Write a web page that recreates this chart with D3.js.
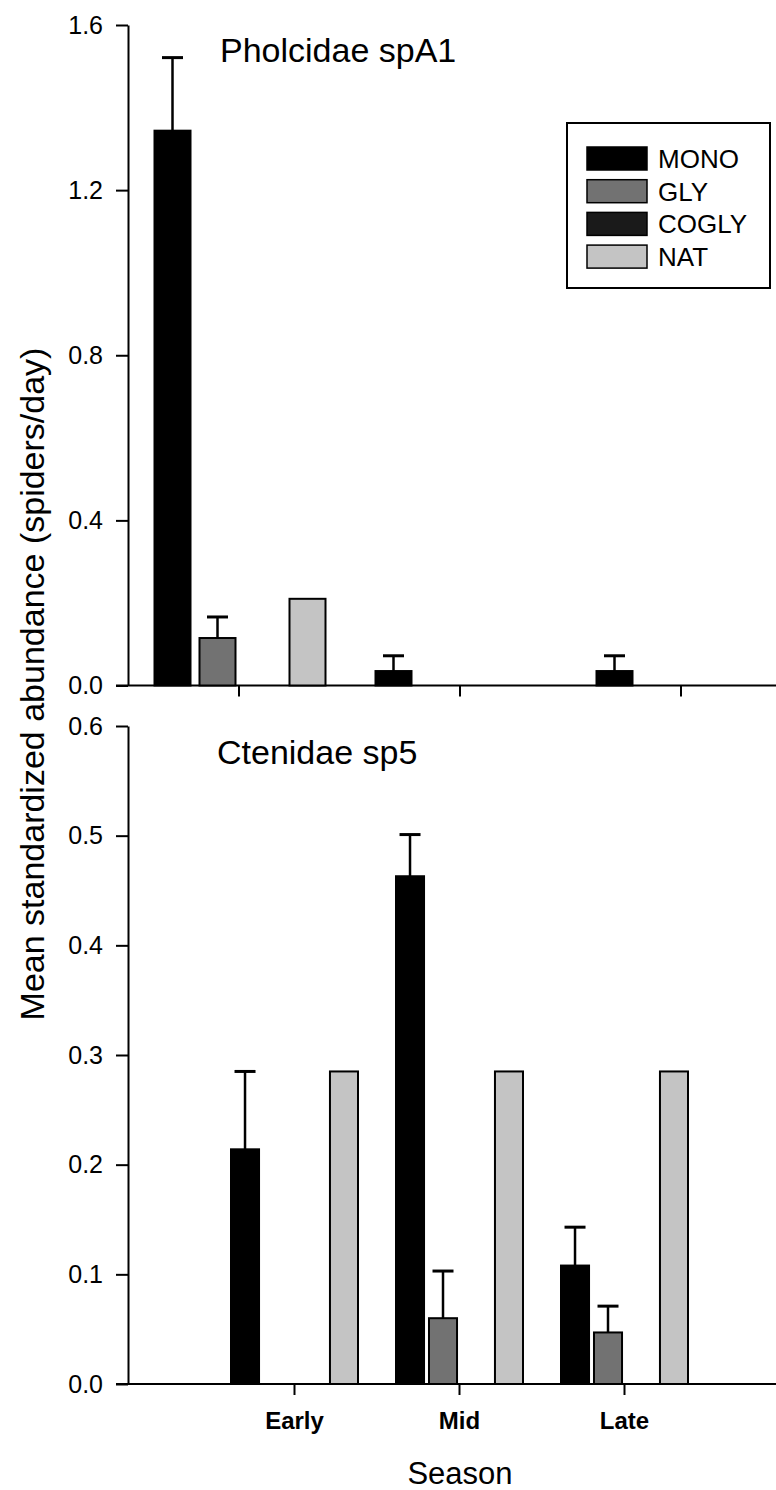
<!DOCTYPE html>
<html>
<head>
<meta charset="utf-8">
<script src="https://cdn.jsdelivr.net/npm/d3@7"></script>
<style>
  body { margin: 0; background: #fff; }
  svg { display: block; }
  text { font-family: "Liberation Sans", Arial, sans-serif; fill: #000; }
  .axis path, .axis line { stroke: #000; stroke-width: 2; }
</style>
</head>
<body>
<div id="chart"></div>
<script>
// data
var seasons = ["Early", "Mid", "Late"];
var treatments = ["MONO", "GLY", "COGLY", "NAT"];
var fills = ["#000000", "#727272", "#1a1a1a", "#c4c4c4"];

// Pholcidae spA1 (means and upward SE)
var pholMono = [1.344, 0.035, 0.035];
var pholGly = [0.115, 0, 0];
var pholCogly = [0, 0, 0];
var pholNat = [0.210, 0, 0];
var pholMonoSe = [0.177, 0.037, 0.037];
var pholGlySe = [0.051, 0, 0];
var pholTicks = [0, 0.4, 0.8, 1.2, 1.6];

// Ctenidae sp5
var cteMono = [0.214, 0.463, 0.108];
var cteGly = [0, 0.060, 0.047];
var cteCogly = [0, 0, 0];
var cteNat = [0.285, 0.285, 0.285];
var cteMonoSe = [0.071, 0.038, 0.035];
var cteGlySe = [0, 0.043, 0.024];
var cteTicks = [0, 0.1, 0.2, 0.3, 0.4, 0.5, 0.6];

var W = 776, H = 1490;
var svg = d3.select("#chart").append("svg")
  .attr("width", W)
  .attr("height", H);

function rows(vals, ses) {
  // flatten to one record per bar
  var out = [];
  seasons.forEach(function(s, i) {
    treatments.forEach(function(t, j) {
      out.push({ season: s, treat: t, value: vals[j][i], se: ses[j] ? ses[j][i] : 0 });
    });
  });
  return out;
}

function drawPanel(p) {
  var x = d3.scaleBand().domain(seasons).range(p.xRange);
  var x1 = d3.scaleBand().domain(treatments).range(p.innerRange).paddingInner(p.innerPad);
  var y = d3.scaleLinear().domain([0, d3.max(p.ticks)]).range([p.bottom, p.top]);
  var color = d3.scaleOrdinal().domain(treatments).range(fills);
  var axisX = p.axisX;

  var g = svg.append("g");

  // y axis
  g.append("g")
    .attr("class", "axis")
    .attr("transform", "translate(" + axisX + ",0)")
    .call(d3.axisLeft(y).tickValues(p.ticks).tickSize(12).tickSizeOuter(0).tickPadding(13).tickFormat(d3.format(".1f")))
    .call(function(a) { a.selectAll("text").style("font-size", "25px"); });

  // x axis
  var xa = g.append("g")
    .attr("class", "axis")
    .attr("transform", "translate(0," + y(0) + ")")
    .call(d3.axisBottom(x).tickSize(11).tickPadding(17));
  xa.select(".domain").remove();
  xa.append("line")
    .attr("x1", axisX - 12).attr("x2", W)
    .attr("y1", 0).attr("y2", 0);
  if (p.labels) {
    xa.selectAll("text").style("font-size", "24px").style("font-weight", "bold");
  } else {
    xa.selectAll("text").remove();
  }

  var data = rows(p.values, p.ses);

  // bars
  g.selectAll(".bar")
    .data(data.filter(function(d) { return d.value > 0; }))
    .enter().append("rect")
    .attr("class", "bar")
    .attr("x", function(d) { return x(d.season) + x1(d.treat); })
    .attr("y", function(d) { return y(d.value); })
    .attr("width", x1.bandwidth())
    .attr("height", function(d) { return y(0) - y(d.value); })
    .attr("fill", function(d) { return color(d.treat); })
    .attr("stroke", "#000")
    .attr("stroke-width", 2);

  // upper error bars
  var eb = data.filter(function(d) { return d.value > 0 && d.se > 0; });
  var cx = function(d) { return x(d.season) + x1(d.treat) + x1.bandwidth() / 2; };
  g.selectAll(".err")
    .data(eb)
    .enter().append("line")
    .attr("x1", cx).attr("x2", cx)
    .attr("y1", function(d) { return y(d.value); })
    .attr("y2", function(d) { return y(d.value + d.se); })
    .attr("stroke", "#000").attr("stroke-width", 2.5);
  g.selectAll(".cap")
    .data(eb)
    .enter().append("line")
    .attr("x1", function(d) { return cx(d) - 10.5; })
    .attr("x2", function(d) { return cx(d) + 10.5; })
    .attr("y1", function(d) { return y(d.value + d.se); })
    .attr("y2", function(d) { return y(d.value + d.se); })
    .attr("stroke", "#000").attr("stroke-width", 3);

  // panel title
  g.append("text")
    .attr("x", p.titleX).attr("y", p.titleY)
    .style("font-size", "34px")
    .text(p.title);
}

drawPanel({
  title: "Pholcidae spA1", titleX: 220, titleY: 62,
  values: [pholMono, pholGly, pholCogly, pholNat],
  ses: [pholMonoSe, pholGlySe, null, null],
  ticks: pholTicks,
  top: 25, bottom: 685.5, axisX: 128,
  xRange: [128.5, 791.5], innerRange: [26, 197], innerPad: 0.2,
  labels: false
});

drawPanel({
  title: "Ctenidae sp5", titleX: 217, titleY: 764,
  values: [cteMono, cteGly, cteCogly, cteNat],
  ses: [cteMonoSe, cteGlySe, null, null],
  ticks: cteTicks,
  top: 726, bottom: 1384, axisX: 128,
  xRange: [212, 707], innerRange: [19, 146], innerPad: 0.15,
  labels: true
});

// axis titles
svg.append("text")
  .attr("transform", "translate(44,684) rotate(-90)")
  .attr("text-anchor", "middle")
  .style("font-size", "34px")
  .text("Mean standardized abundance (spiders/day)");

svg.append("text")
  .attr("x", 460).attr("y", 1484)
  .attr("text-anchor", "middle")
  .style("font-size", "31px")
  .text("Season");

// legend
var legend = svg.append("g").attr("transform", "translate(567,123)");
legend.append("rect")
  .attr("width", 203).attr("height", 165)
  .attr("fill", "#fff").attr("stroke", "#000").attr("stroke-width", 2);
var item = legend.selectAll(".item")
  .data(treatments)
  .enter().append("g")
  .attr("transform", function(d, i) { return "translate(20," + (24 + i * 32.7) + ")"; });
item.append("rect")
  .attr("width", 60).attr("height", 23)
  .attr("fill", function(d, i) { return fills[i]; })
  .attr("stroke", "#000").attr("stroke-width", 1.5);
item.append("text")
  .attr("x", 71).attr("y", 21)
  .style("font-size", "26px")
  .text(function(d) { return d; });
</script>
</body>
</html>
